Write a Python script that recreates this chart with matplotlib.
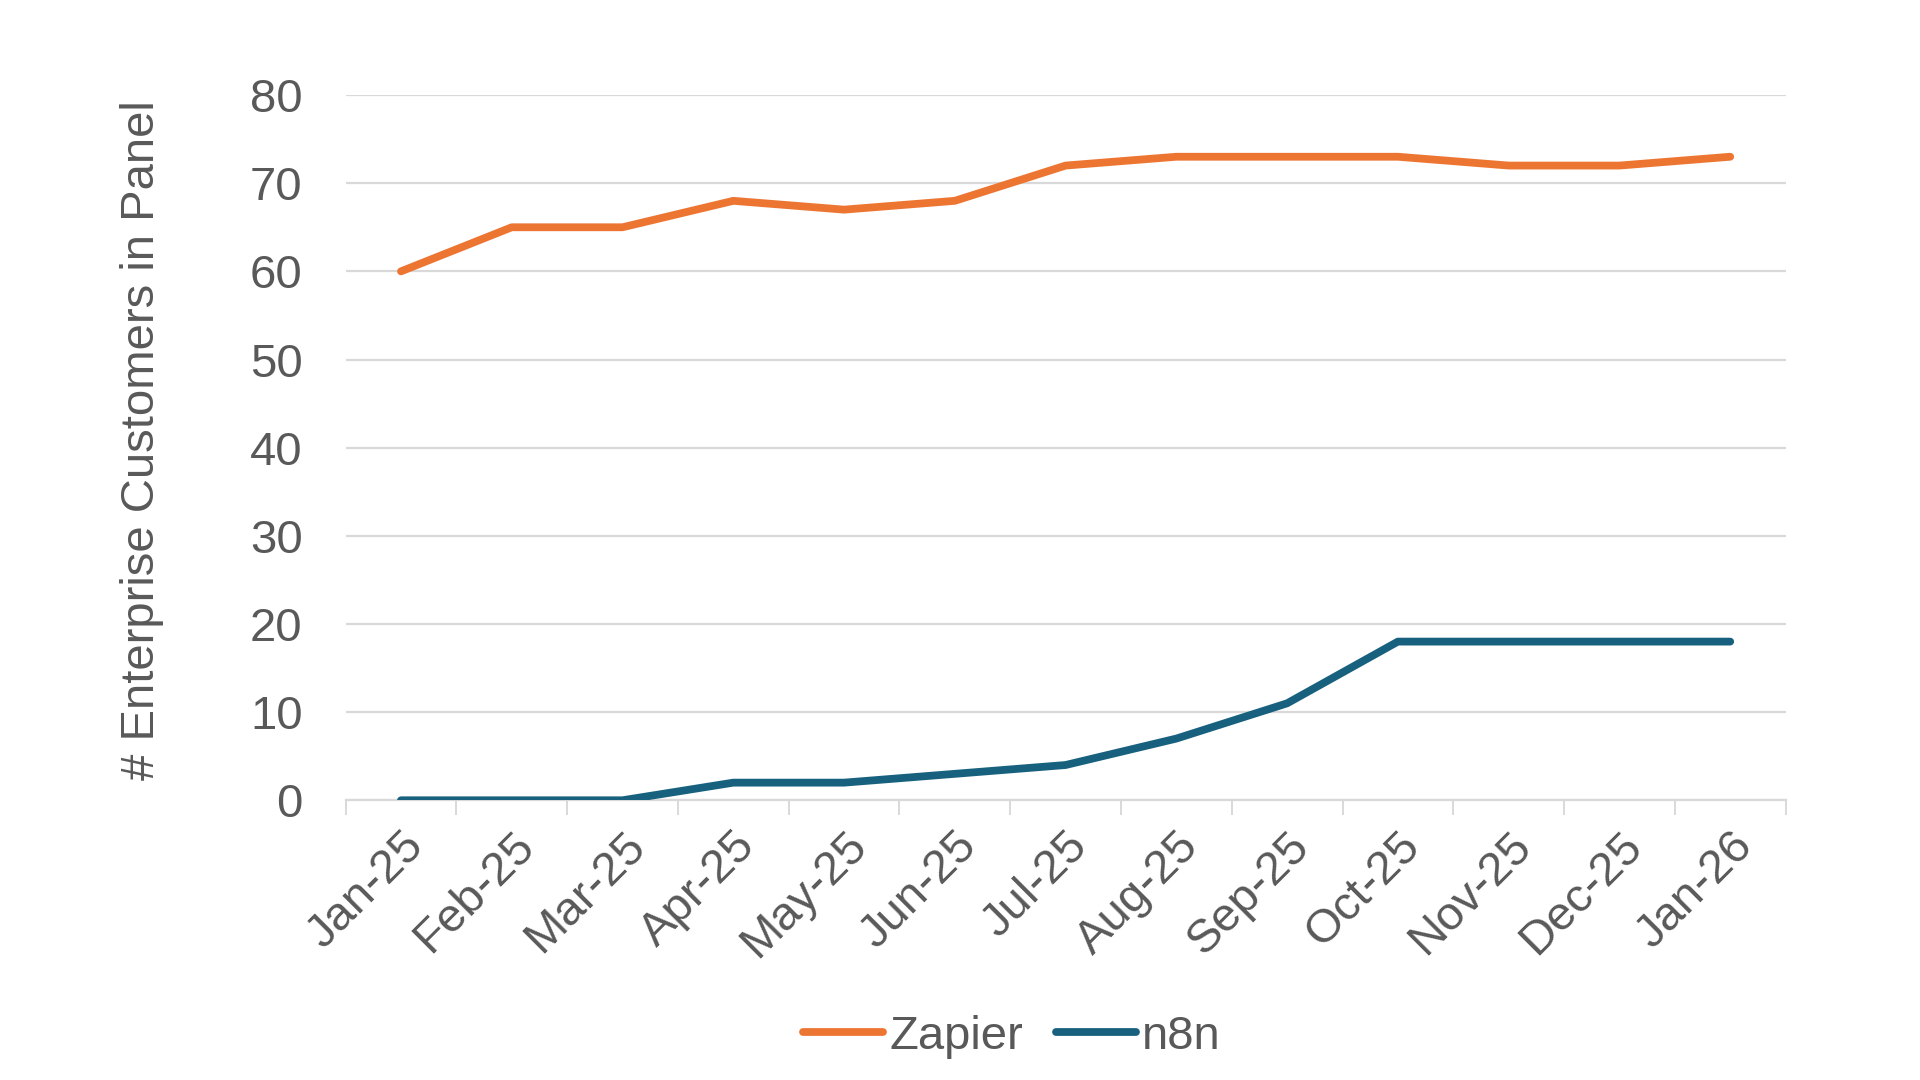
import matplotlib
matplotlib.use('Agg')
import matplotlib.pyplot as plt
import numpy as np

months = ['Jan-25', 'Feb-25', 'Mar-25', 'Apr-25', 'May-25', 'Jun-25', 'Jul-25',
          'Aug-25', 'Sep-25', 'Oct-25', 'Nov-25', 'Dec-25', 'Jan-26']
zapier = [60, 65, 65, 68, 67, 68, 72, 73, 73, 73, 72, 72, 73]
n8n = [0, 0, 0, 2, 2, 3, 4, 7, 11, 18, 18, 18, 18]
y_ticks = [0, 10, 20, 30, 40, 50, 60, 70, 80]

ORANGE = '#ED7532'
BLUE = '#17617F'
TEXT = '#595959'
GRID = '#D9D9D9'
FS = 34

plt.rcParams['font.family'] = ['Liberation Sans', 'DejaVu Sans']

fig = plt.figure(figsize=(19.2, 10.8), dpi=100)
ax = fig.add_axes([0.180, 0.259, 0.750, 0.653])

x = np.arange(len(months))
ax.plot(x, zapier, color=ORANGE, lw=5.6, solid_capstyle='round',
        solid_joinstyle='round', label='Zapier', zorder=3)
ax.plot(x, n8n, color=BLUE, lw=5.6, solid_capstyle='round',
        solid_joinstyle='round', label='n8n', zorder=3)

ax.set_xlim(-0.5, len(months) - 0.5)
ax.set_ylim(0, 80)
ax.set_yticks(y_ticks)
ax.yaxis.grid(True, color=GRID, lw=1.6)
ax.set_axisbelow(True)

ax.set_xticks(x)
ax.set_xticklabels(months, rotation=45, ha='right', rotation_mode='anchor')
ax.set_xticks(np.arange(-0.5, len(months)), minor=True)
ax.tick_params(axis='x', which='major', length=0, pad=17, labelsize=FS,
               labelcolor=TEXT)
ax.tick_params(axis='x', which='minor', length=11, width=1.4, color=GRID,
               direction='out')
ax.tick_params(axis='y', length=0, pad=31, labelsize=FS, labelcolor=TEXT)

for side in ['left', 'right', 'top']:
    ax.spines[side].set_visible(False)
ax.spines['bottom'].set_color(GRID)
ax.spines['bottom'].set_linewidth(1.6)

ax.set_ylabel('# Enterprise Customers in Panel', fontsize=FS, color=TEXT)
ax.yaxis.set_label_coords(-0.126, 0.51)

leg = fig.legend(loc='center', bbox_to_anchor=(0.527, 0.040), ncol=2,
                 frameon=False, fontsize=FS, handlelength=1.7,
                 handletextpad=0.13, columnspacing=0.7)
for t in leg.get_texts():
    t.set_color(TEXT)

fig.savefig('out.png', dpi=100)
plt.close(fig)
